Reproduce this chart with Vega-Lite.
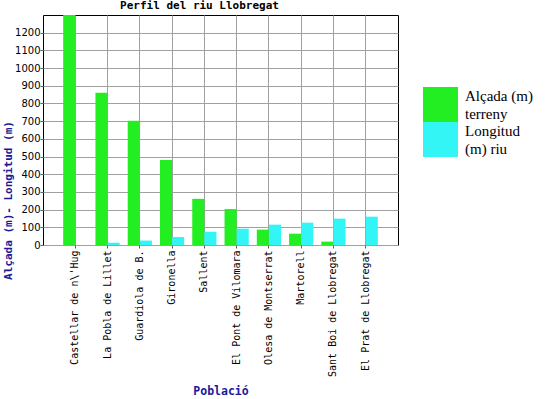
{
  "$schema": "https://vega.github.io/schema/vega-lite/v6.json",
  "width": 355,
  "height": 230,
  "autosize": "none",
  "padding": {"left": 43, "top": 15, "right": 150, "bottom": 154},
  "background": "white",
  "title": {"text": "Perfil del riu Llobregat", "font": "DejaVu Sans Mono", "fontSize": 11, "fontWeight": "bold", "color": "black", "anchor": "middle", "dx": -21, "offset": 4},
  "data": {"values": [
    {"Població": "Castellar de n\\'Hug", "Serie": "Alçada (m) terreny", "valor": 1300},
    {"Població": "Castellar de n\\'Hug", "Serie": "Longitud (m) riu", "valor": 0},
    {"Població": "La Pobla de Lillet", "Serie": "Alçada (m) terreny", "valor": 860},
    {"Població": "La Pobla de Lillet", "Serie": "Longitud (m) riu", "valor": 13},
    {"Població": "Guardiola de B.", "Serie": "Alçada (m) terreny", "valor": 702},
    {"Població": "Guardiola de B.", "Serie": "Longitud (m) riu", "valor": 25},
    {"Població": "Gironella", "Serie": "Alçada (m) terreny", "valor": 481},
    {"Població": "Gironella", "Serie": "Longitud (m) riu", "valor": 45},
    {"Població": "Sallent", "Serie": "Alçada (m) terreny", "valor": 261},
    {"Població": "Sallent", "Serie": "Longitud (m) riu", "valor": 75},
    {"Població": "El Pont de Vilomara", "Serie": "Alçada (m) terreny", "valor": 203},
    {"Població": "El Pont de Vilomara", "Serie": "Longitud (m) riu", "valor": 92},
    {"Població": "Olesa de Montserrat", "Serie": "Alçada (m) terreny", "valor": 87},
    {"Població": "Olesa de Montserrat", "Serie": "Longitud (m) riu", "valor": 115},
    {"Població": "Martorell", "Serie": "Alçada (m) terreny", "valor": 64},
    {"Població": "Martorell", "Serie": "Longitud (m) riu", "valor": 126},
    {"Població": "Sant Boi de Llobregat", "Serie": "Alçada (m) terreny", "valor": 19},
    {"Població": "Sant Boi de Llobregat", "Serie": "Longitud (m) riu", "valor": 149},
    {"Població": "El Prat de Llobregat", "Serie": "Alçada (m) terreny", "valor": 0},
    {"Població": "El Prat de Llobregat", "Serie": "Longitud (m) riu", "valor": 160}
  ]},
  "mark": {"type": "bar", "clip": true},
  "encoding": {
    "x": {
      "field": "Població", "type": "nominal", "sort": null,
      "scale": {"paddingInner": 0.25, "paddingOuter": 0.625},
      "axis": {
        "grid": true, "gridColor": "#a0a0a0", "gridWidth": 1, "gridOpacity": 1,
        "domain": false, "ticks": true, "tickSize": 3, "tickColor": "#606060",
        "labelAngle": -90, "labelAlign": "right", "labelBaseline": "middle",
        "labelFont": "DejaVu Sans Mono", "labelFontSize": 10, "labelColor": "black", "labelPadding": 2, "labelLimit": 200,
        "title": "Població", "titleFont": "DejaVu Sans Mono", "titleFontSize": 11.5, "titleFontWeight": "bold", "titleColor": "#1a1a99",
        "titleY": 146, "titleBaseline": "middle"
      }
    },
    "xOffset": {"field": "Serie", "sort": null},
    "y": {
      "field": "valor", "type": "quantitative",
      "scale": {"domain": [0, 1300], "nice": false},
      "axis": {
        "values": [0, 100, 200, 300, 400, 500, 600, 700, 800, 900, 1000, 1100, 1200],
        "format": "d",
        "grid": true, "gridColor": "#a0a0a0", "gridWidth": 1, "gridOpacity": 1,
        "domain": false, "ticks": true, "tickSize": 3, "tickColor": "#606060",
        "labelFont": "DejaVu Sans", "labelFontSize": 10, "labelColor": "black", "labelPadding": 0,
        "title": "Alçada (m)- Longitud (m)", "titleFont": "DejaVu Sans Mono", "titleFontSize": 11, "titleFontWeight": "bold", "titleColor": "#1a1a99",
        "titleAngle": -90, "titleX": -35, "titleY": 185, "titleAlign": "center", "titleBaseline": "middle"
      }
    },
    "color": {
      "field": "Serie", "type": "nominal", "sort": null,
      "scale": {"range": ["#22ee22", "#33f5f5"]},
      "legend": {
        "title": null, "orient": "none", "legendX": 380, "legendY": 72, "padding": 0,
        "symbolType": "square", "symbolSize": 1225, "symbolStrokeWidth": 0, "symbolOpacity": 1,
        "labelFont": "Liberation Serif", "labelFontSize": 15, "labelColor": "black",
        "labelOffset": 7, "rowPadding": 0, "labelLimit": 200,
        "labelExpr": "datum.label == 'Alçada (m) terreny' ? ['Alçada (m)', 'terreny'] : ['Longitud', '(m) riu']",
        "encode": {"labels": {"update": {"lineHeight": {"value": 18}, "dy": {"value": -9}}}}
      }
    }
  },
  "config": {"view": {"stroke": "black", "strokeWidth": 1}}
}
